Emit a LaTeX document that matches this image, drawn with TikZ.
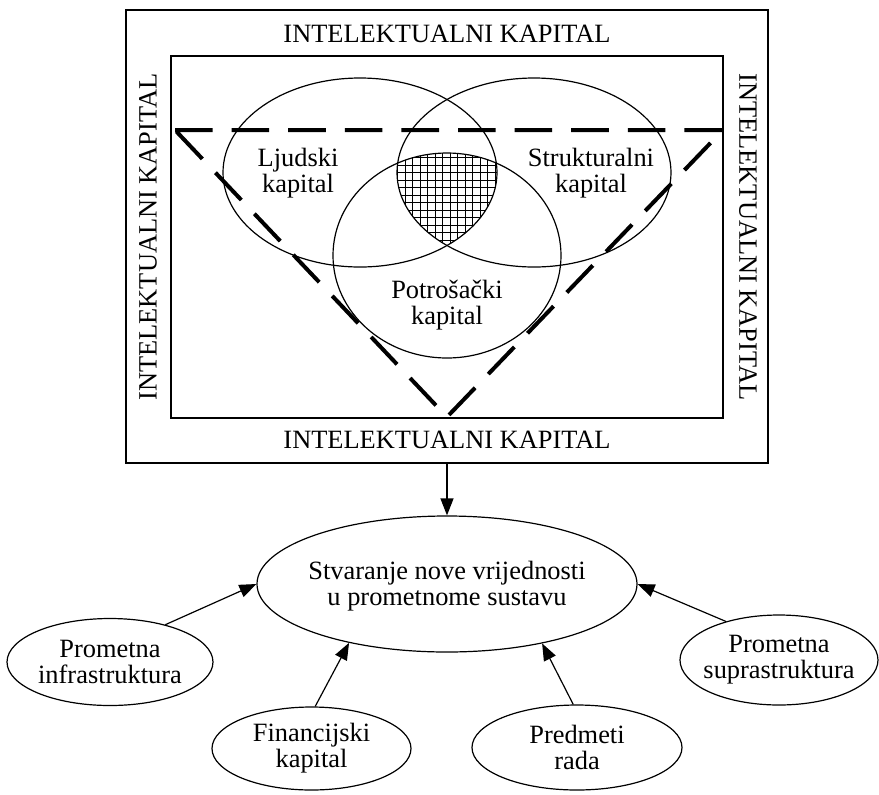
\documentclass[tikz,border=0pt]{standalone}
\usepackage{fontspec}
\setmainfont{Liberation Serif}
\usetikzlibrary{arrows.meta,shapes.geometric}
\begin{document}
\begin{tikzpicture}[x=0.5pt,y=-0.5pt,
  lbl/.style={font=\fontsize{13.2}{12.9}\selectfont, inner sep=0pt, align=center},
  thinln/.style={line width=0.6pt},
  box/.style={draw, line width=0.6pt, rectangle, inner sep=0pt},
  bubble/.style={draw, line width=0.6pt, ellipse, inner sep=0pt},
  arr/.style={line width=0.6pt, -{Triangle[length=8.5pt,width=6.5pt]}},
  tri/.style={line width=2pt, dash pattern=on 18.8pt off 9.5pt}]
\useasboundingbox (0,0) rectangle (879,794);

% boxes
\node[box, minimum width=321pt, minimum height=226.5pt] (outer) at (447,236.5) {};
\node[box, minimum width=276pt, minimum height=181pt] (inner) at (447,237) {};

% frame labels
\node[lbl] (tt) at (447,33.5) {INTELEKTUALNI KAPITAL};
\node[lbl] (tb) at (447,440) {INTELEKTUALNI KAPITAL};
\node[lbl, rotate=90] (tl) at (148,237) {INTELEKTUALNI KAPITAL};
\node[lbl, rotate=-90] (tr) at (748,237) {INTELEKTUALNI KAPITAL};

% Venn centres
\coordinate (L) at (360,172.5);
\coordinate (R) at (534,172.5);
\coordinate (P) at (447,255.5);

% hatching of the common part
\begin{scope}
  \clip (L) ellipse [x radius=68.5pt, y radius=47.25pt];
  \clip (R) ellipse [x radius=68.5pt, y radius=47.25pt];
  \clip (P) ellipse [x radius=57pt, y radius=51.25pt];
  \draw[line width=0.45pt, step=3.75pt] (370,70) grid (530,270);
\end{scope}

\draw[thinln] (L) ellipse [x radius=68.5pt, y radius=47.25pt];
\draw[thinln] (R) ellipse [x radius=68.5pt, y radius=47.25pt];
\draw[thinln] (P) ellipse [x radius=57pt, y radius=51.25pt];

% dashed triangle
\draw[tri] (175,130) -- (723,130) -- (447,417) -- cycle;

% Venn labels
\node[lbl] (lj) at (298,173) {Ljudski\\kapital};
\node[lbl] (sk) at (591,173) {Strukturalni\\kapital};
\node[lbl] (pk) at (447,305) {Potrošački\\kapital};

% lower ellipses
\node[bubble, minimum width=190pt, minimum height=68pt] (cv) at (447,584) {};
\node[lbl] (cvt) at (447,586) {Stvaranje nove vrijednosti\\u prometnome sustavu};

\node[bubble, minimum width=103pt, minimum height=43.5pt] (pi) at (110,662) {};
\node[lbl] (pit) at (110,662) {Prometna\\infrastruktura};

\node[bubble, minimum width=99.5pt, minimum height=41.5pt] (fk) at (311.5,748.5) {};
\node[lbl] (fkt) at (311.5,748.5) {Financijski\\kapital};

\node[bubble, minimum width=105pt, minimum height=42.5pt] (pr) at (577,747.5) {};
\node[lbl] (prt) at (577,747.5) {Predmeti\\rada};

\node[bubble, minimum width=99pt, minimum height=45pt] (ps) at (779,660) {};
\node[lbl] (pst) at (779,660) {Prometna\\suprastruktura};

% connectors
\draw[arr] (outer.south) -- (outer.south |- cv.north);
\draw[arr] (pi.34) -- (cv.west);
\draw[arr] (fk.85) -- (cv.211);
\draw[arr] (pr.95) -- (cv.-32);
\draw[arr] (ps.144) -- (cv.east);
\end{tikzpicture}
\end{document}
